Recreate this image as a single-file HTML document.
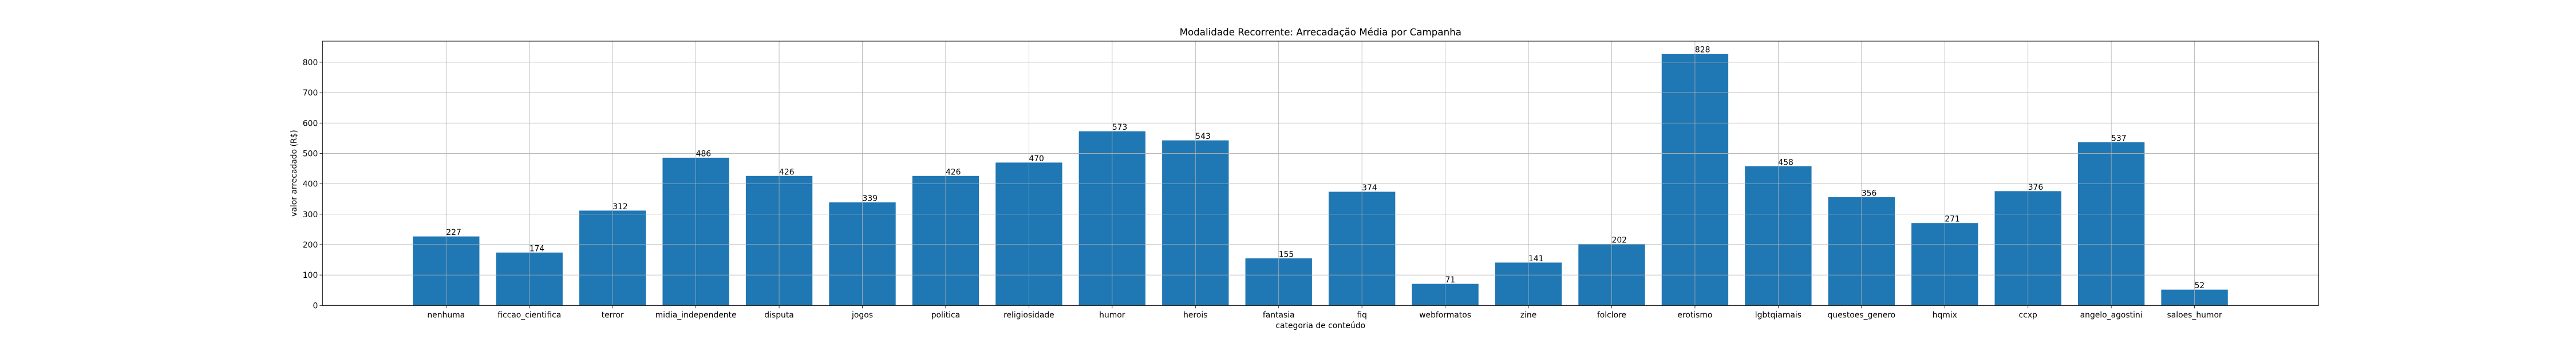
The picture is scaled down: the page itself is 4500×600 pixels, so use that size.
<!DOCTYPE html>
<html><head><meta charset="utf-8"><style>
html,body{margin:0;padding:0;background:#fff;}
svg{display:block;font-family:"DejaVu Sans","Liberation Sans",sans-serif;}
</style></head><body>
<svg id="chart" width="4500" height="600" xmlns="http://www.w3.org/2000/svg">
<rect width="4500" height="600" fill="#fff"/>
<text x="2306.8" y="62" font-size="16.7" text-anchor="middle" fill="#000">Modalidade Recorrente: Arrecadação Média por Campanha</text>
<g id="bars"></g>
<g id="grid"></g>
<g id="labels"></g>
<g id="axes"></g>
<text transform="translate(518,303) rotate(-90)" font-size="13.9" text-anchor="middle" fill="#000">valor arrecadado (R$)</text>
<text x="2306.8" y="574" font-size="13.9" text-anchor="middle" fill="#000">categoria de conteúdo</text>
</svg>
<script>
const categories = ["nenhuma","ficcao_cientifica","terror","midia_independente","disputa","jogos","politica","religiosidade","humor","herois","fantasia","fiq","webformatos","zine","folclore","erotismo","lgbtqiamais","questoes_genero","hqmix","ccxp","angelo_agostini","saloes_humor"];
const values = [227,174,312,486,426,339,426,470,573,543,155,374,71,141,202,828,458,356,271,376,537,52];
const yTicks = [0,100,200,300,400,500,600,700,800];

const NS = "http://www.w3.org/2000/svg";
const L = 563.3, R = 4050.3, T = 72, B = 534.3;
const xMin = -1.485, xMax = categories.length - 1 + 1.49;
const yMax = Math.max(...values) * 1.05;
function xs(i){ return L + (i - xMin) / (xMax - xMin) * (R - L); }
function ys(v){ return B - v / yMax * (B - T); }
const step = xs(1) - xs(0);
function mk(tag, attrs, parent){ const e = document.createElementNS(NS, tag); for (const k in attrs) e.setAttribute(k, attrs[k]); parent.appendChild(e); return e; }
const grid = document.getElementById('grid'), bars = document.getElementById('bars'), labels = document.getElementById('labels'), axes = document.getElementById('axes');

yTicks.forEach(function(t){
  const y = ys(t);
  const g = mk('line', {x1:L, x2:R, y1:y, y2:y, stroke:'#b0b0b0', 'stroke-width':0.8}, grid);
  
  
  const tk = mk('line', {x1:L-4.9, x2:L, y1:y, y2:y, stroke:'#000', 'stroke-width':0.8}, axes);
  
  
  const tx = mk('text', {x:L-8, y:y+5, 'font-size':13.9, 'text-anchor':'end', fill:'#000'}, axes);
  tx.textContent = t;
  
  
});

categories.forEach(function(c, i){
  const x = xs(i);
  const bw = step * 0.8;
  const b = mk('rect', {x:x-bw/2, y:ys(values[i]), width:bw, height:B-ys(values[i]), fill:'#1f77b4'}, bars);
  
  
  const g = mk('line', {x1:x, x2:x, y1:T, y2:B, stroke:'#b0b0b0', 'stroke-width':0.8}, grid);
  
  
  const lb = mk('text', {x:x, y:ys(values[i]) - 2.5, 'font-size':13.9, 'text-anchor':'start', fill:'#000'}, labels);
  lb.textContent = values[i];
  
  
  const tk = mk('line', {x1:x, x2:x, y1:B, y2:B+4.9, stroke:'#000', 'stroke-width':0.8}, axes);
  
  
  const tx = mk('text', {x:x, y:B + 21, 'font-size':13.9, 'text-anchor':'middle', fill:'#000'}, axes);
  tx.textContent = c;
  
  
});
const frame = mk('rect', {x:L, y:T, width:R-L, height:B-T, fill:'none', stroke:'#000', 'stroke-width':1}, axes);


</script>
</body></html>
